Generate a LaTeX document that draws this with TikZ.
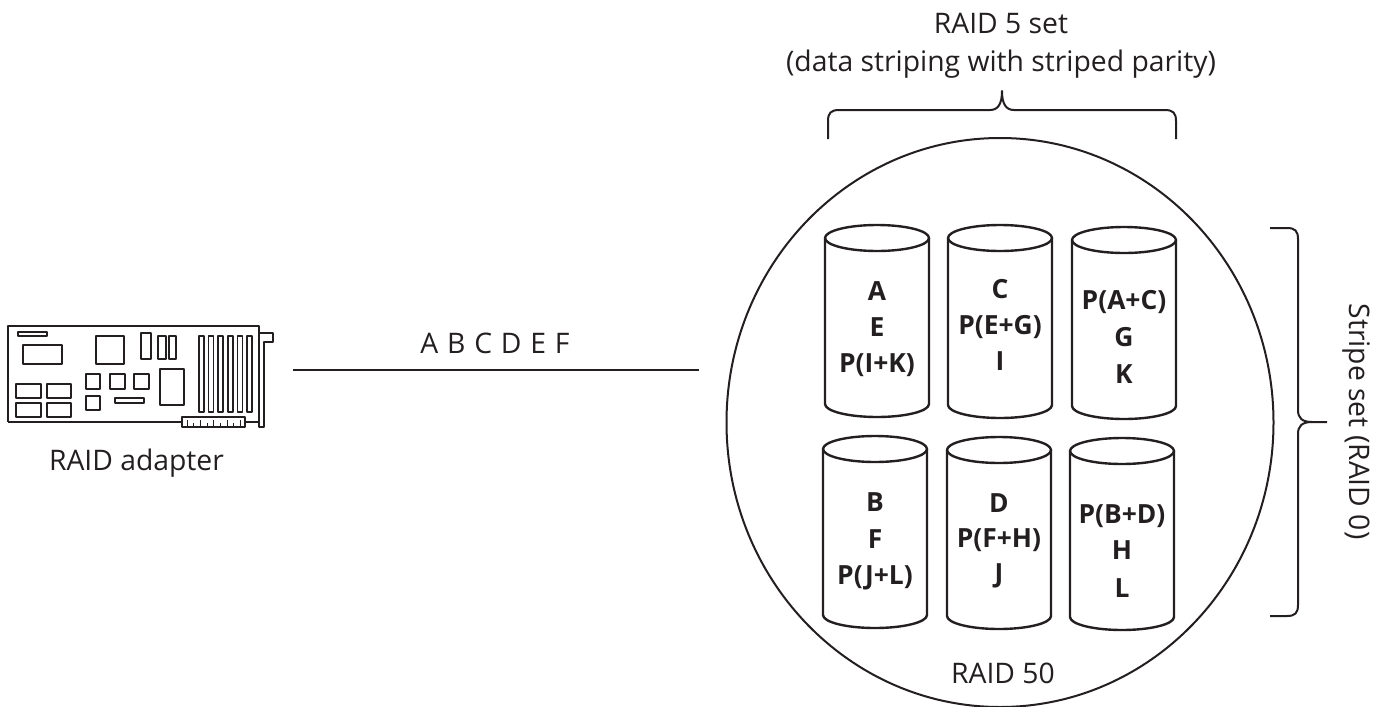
\documentclass[tikz,border=0pt]{standalone}
\usepackage{fontspec}
\setmainfont{Open Sans}
\usetikzlibrary{shapes.geometric}
\definecolor{ink}{HTML}{231F20}
\newcommand\drawdisk[3]{%
  \draw[cyl] (#1+52,#2+13) ellipse [x radius=52, y radius=13];
  \draw[cyl] (#1,#2+13) -- (#1,#3-13) arc[start angle=180, end angle=0, x radius=52, y radius=13] -- (#1+104,#2+13);
}
\newcommand\lgap{\hspace{8.8pt}}
\begin{document}
\begin{tikzpicture}[x=1pt,y=-1pt, line join=round,
  lbl/.style={font=\fontsize{28.3}{33}\selectfont, text=ink, inner sep=0, anchor=base},
  dlbl/.style={font=\fontsize{26.4}{30}\selectfont\bfseries, text=ink, inner sep=0, anchor=base},
  cyl/.style={draw=ink, line width=2.4pt},
  pcb/.style={draw=ink, line width=1.1pt},
  wire/.style={draw=ink, line width=2pt},
  brace/.style={draw=ink, line width=2pt}]
\useasboundingbox (0,0) rectangle (1382,707);

% ---------- RAID adapter card ----------
\node[inner sep=0, minimum width=265, minimum height=101] (card) at (140.5,376.5) {};
\draw[pcb] (8,422) -- (8,326) -- (259,326) -- (259,427) -- (264,427) -- (264,342) -- (273,342) -- (273,333) -- (259,333);
\draw[pcb] (8,422) -- (182,422);
\draw[pcb] (245,422) -- (259,422);
\draw[pcb] (182,417) rectangle (245,427);
\foreach \x/\h in {187/420,193/423,200/420,207/423,213/420,220/423,227/420,233/423,240/420}
  \draw[pcb, line width=0.8pt] (\x,427) -- (\x,\h);
\draw[pcb] (18,332) rectangle (47,336);
\draw[pcb] (23,345) rectangle (62,364);
\draw[pcb] (96,336) rectangle (124,364);
\draw[pcb] (141,333) rectangle (151,359);
\draw[pcb] (158,336) rectangle (166,359);
\draw[pcb] (169,336) rectangle (176,359);
\foreach \x in {199,208.5,218,228,237.5,247}
  \draw[pcb] (\x,336) rectangle (\x+5,412);
\draw[pcb] (160,369) rectangle (184,405);
\draw[pcb] (86,374) rectangle (100,389);
\draw[pcb] (110,374) rectangle (125,389);
\draw[pcb] (134,374) rectangle (149,389);
\draw[pcb] (86,396) rectangle (100,410);
\draw[pcb] (115,398) rectangle (144,403);
\draw[pcb] (16,384) rectangle (41,398);
\draw[pcb] (47,384) rectangle (71,398);
\draw[pcb] (16,403) rectangle (41,417);
\draw[pcb] (47,403) rectangle (71,417);
\node[lbl] (cardlbl) at (136.5,470) {RAID adapter};

% ---------- connection ----------
\coordinate (lineL) at (293,370);
\coordinate (lineR) at (699,370);
\draw[wire] (lineL) -- (lineR);
\node[lbl] (flow) at (495,353) {A\lgap B\lgap C\lgap D\lgap E\lgap F};

% ---------- RAID 50 ellipse ----------
\node[draw=ink, line width=2pt, ellipse, inner sep=0, minimum width=547, minimum height=569] (raid50) at (1000,422.5) {};
\node[lbl] (r50lbl) at (1003,683) {RAID 50};

% ---------- disks ----------
\drawdisk{825}{225}{417}
\drawdisk{948}{225}{418}
\drawdisk{1072}{227}{419}
\drawdisk{823}{436}{628}
\drawdisk{947}{437}{629}
\drawdisk{1070}{438}{630}

\node[dlbl] (a1) at (877,300) {A};
\node[dlbl] (a2) at (877,336) {E};
\node[dlbl] (a3) at (877,372) {P(I+K)};
\node[dlbl] (b1) at (1000,298) {C};
\node[dlbl] (b2) at (1000,334) {P(E+G)};
\node[dlbl] (b3) at (1000,370) {I};
\node[dlbl] (c1) at (1124,309) {P(A+C)};
\node[dlbl] (c2) at (1124,346) {G};
\node[dlbl] (c3) at (1124,383) {K};
\node[dlbl] (d1) at (875,511) {B};
\node[dlbl] (d2) at (875,548) {F};
\node[dlbl] (d3) at (875,584) {P(J+L)};
\node[dlbl] (e1) at (999,512) {D};
\node[dlbl] (e2) at (999,547) {P(F+H)};
\node[dlbl] (e3) at (999,582) {J};
\node[dlbl] (f1) at (1122,523) {P(B+D)};
\node[dlbl] (f2) at (1122,559) {H};
\node[dlbl] (f3) at (1122,597) {L};

% ---------- top brace ----------
\coordinate (tbL) at (828,139);
\coordinate (tbR) at (1176,139);
\coordinate (tbT) at (1002,91);
\draw[brace] (tbL) -- (828,121) .. controls (828,113) and (831,110) .. (839,110) -- (990,110)
  .. controls (998,110) and (1002,104) .. (tbT)
  .. controls (1002,104) and (1006,110) .. (1014,110) -- (1165,110)
  .. controls (1173,110) and (1176,113) .. (1176,121) -- (tbR);
\node[lbl] (r5a) at (1001,33) {RAID 5 set};
\node[lbl] (r5b) at (1001,71) {(data striping with striped parity)};

% ---------- right brace ----------
\coordinate (rbT) at (1270,228);
\coordinate (rbB) at (1270,616);
\coordinate (rbP) at (1327,422);
\draw[brace] (rbT) -- (1287,228) .. controls (1295,228) and (1298,231) .. (1298,239) -- (1298,410)
  .. controls (1298,418) and (1302,422) .. (1312,422) -- (rbP);
\draw[brace] (1312,422) .. controls (1302,422) and (1298,426) .. (1298,434) -- (1298,605)
  .. controls (1298,613) and (1295,616) .. (1287,616) -- (rbB);
\node[lbl, anchor=base, rotate=-90] (stripe) at (1349,421.5) {Stripe set (RAID 0)};
\end{tikzpicture}
\end{document}
